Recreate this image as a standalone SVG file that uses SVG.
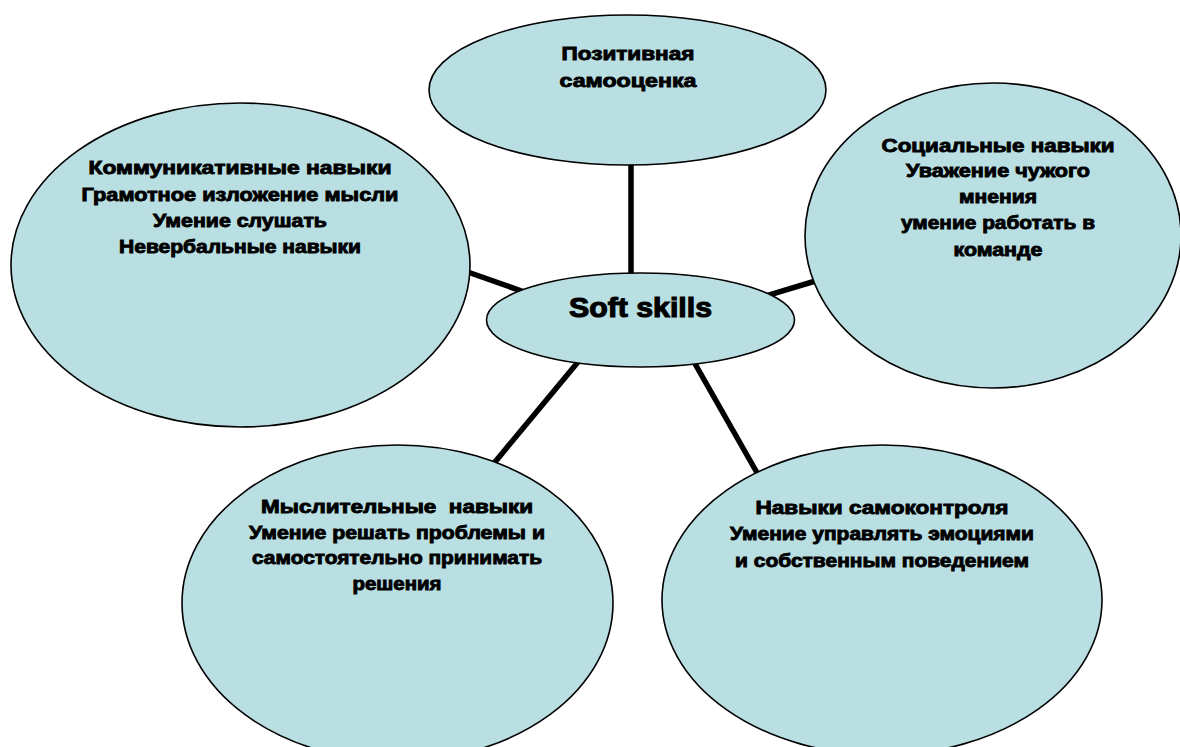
<svg xmlns="http://www.w3.org/2000/svg" width="1180" height="747" viewBox="0 0 1180 747">
<style>
.node{fill:#B9DFE3;stroke:#000;stroke-width:1.6}
.t{font-family:"Liberation Sans",Arial,sans-serif;font-weight:bold;font-size:17.5px;fill:#000;stroke:#000;stroke-width:0.85;text-anchor:middle;white-space:pre}
.big{font-size:27px;stroke-width:1.1}
.conn{stroke:#000;stroke-width:5.5;fill:none}
</style>
<rect width="1180" height="747" fill="#fff"/>
<g id="connectors">
<line class="conn" x1="631" y1="160" x2="631" y2="280"/>
<line class="conn" x1="462" y1="270" x2="530" y2="294"/>
<line class="conn" x1="762" y1="297" x2="822" y2="279"/>
<line class="conn" x1="578" y1="362" x2="490" y2="468"/>
<line class="conn" x1="694" y1="362" x2="760" y2="478"/>
</g>
<g id="node-top">
<ellipse class="node" cx="627.5" cy="90" rx="198.5" ry="75"/>
<text class="t" x="628" y="60" textLength="133" lengthAdjust="spacingAndGlyphs">Позитивная</text>
<text class="t" x="628" y="87" textLength="137" lengthAdjust="spacingAndGlyphs">самооценка</text>
</g>
<g id="node-left">
<ellipse class="node" cx="240.5" cy="265" rx="229.5" ry="162"/>
<text class="t" x="240" y="174" textLength="303" lengthAdjust="spacingAndGlyphs">Коммуникативные навыки</text>
<text class="t" x="240" y="201" textLength="317" lengthAdjust="spacingAndGlyphs">Грамотное изложение мысли</text>
<text class="t" x="240" y="227" textLength="174" lengthAdjust="spacingAndGlyphs">Умение слушать</text>
<text class="t" x="240" y="253" textLength="242" lengthAdjust="spacingAndGlyphs">Невербальные навыки</text>
</g>
<g id="node-right">
<ellipse class="node" cx="993" cy="235.5" rx="188" ry="152.5"/>
<text class="t" x="998" y="152" textLength="233" lengthAdjust="spacingAndGlyphs">Социальные навыки</text>
<text class="t" x="998" y="177" textLength="184" lengthAdjust="spacingAndGlyphs">Уважение чужого</text>
<text class="t" x="998" y="203" textLength="78" lengthAdjust="spacingAndGlyphs">мнения</text>
<text class="t" x="998" y="229" textLength="194" lengthAdjust="spacingAndGlyphs">умение работать в</text>
<text class="t" x="998" y="256" textLength="89" lengthAdjust="spacingAndGlyphs">команде</text>
</g>
<g id="node-bottom-left">
<ellipse class="node" cx="397.5" cy="603" rx="215.5" ry="158"/>
<text class="t" x="397" y="513" textLength="272" lengthAdjust="spacingAndGlyphs" xml:space="preserve">Мыслительные  навыки</text>
<text class="t" x="397" y="539" textLength="296" lengthAdjust="spacingAndGlyphs">Умение решать проблемы и</text>
<text class="t" x="397" y="564" textLength="290" lengthAdjust="spacingAndGlyphs">самостоятельно принимать</text>
<text class="t" x="397" y="590" textLength="89" lengthAdjust="spacingAndGlyphs">решения</text>
</g>
<g id="node-bottom-right">
<ellipse class="node" cx="882" cy="600" rx="220" ry="155"/>
<text class="t" x="882" y="514" textLength="253" lengthAdjust="spacingAndGlyphs">Навыки самоконтроля</text>
<text class="t" x="882" y="540" textLength="304" lengthAdjust="spacingAndGlyphs">Умение управлять эмоциями</text>
<text class="t" x="882" y="567" textLength="294" lengthAdjust="spacingAndGlyphs">и собственным поведением</text>
</g>
<g id="node-center">
<ellipse class="node" cx="640.5" cy="320" rx="154" ry="47"/>
<text class="t big" x="640.5" y="317" textLength="143" lengthAdjust="spacingAndGlyphs">Soft skills</text>
</g>
</svg>
